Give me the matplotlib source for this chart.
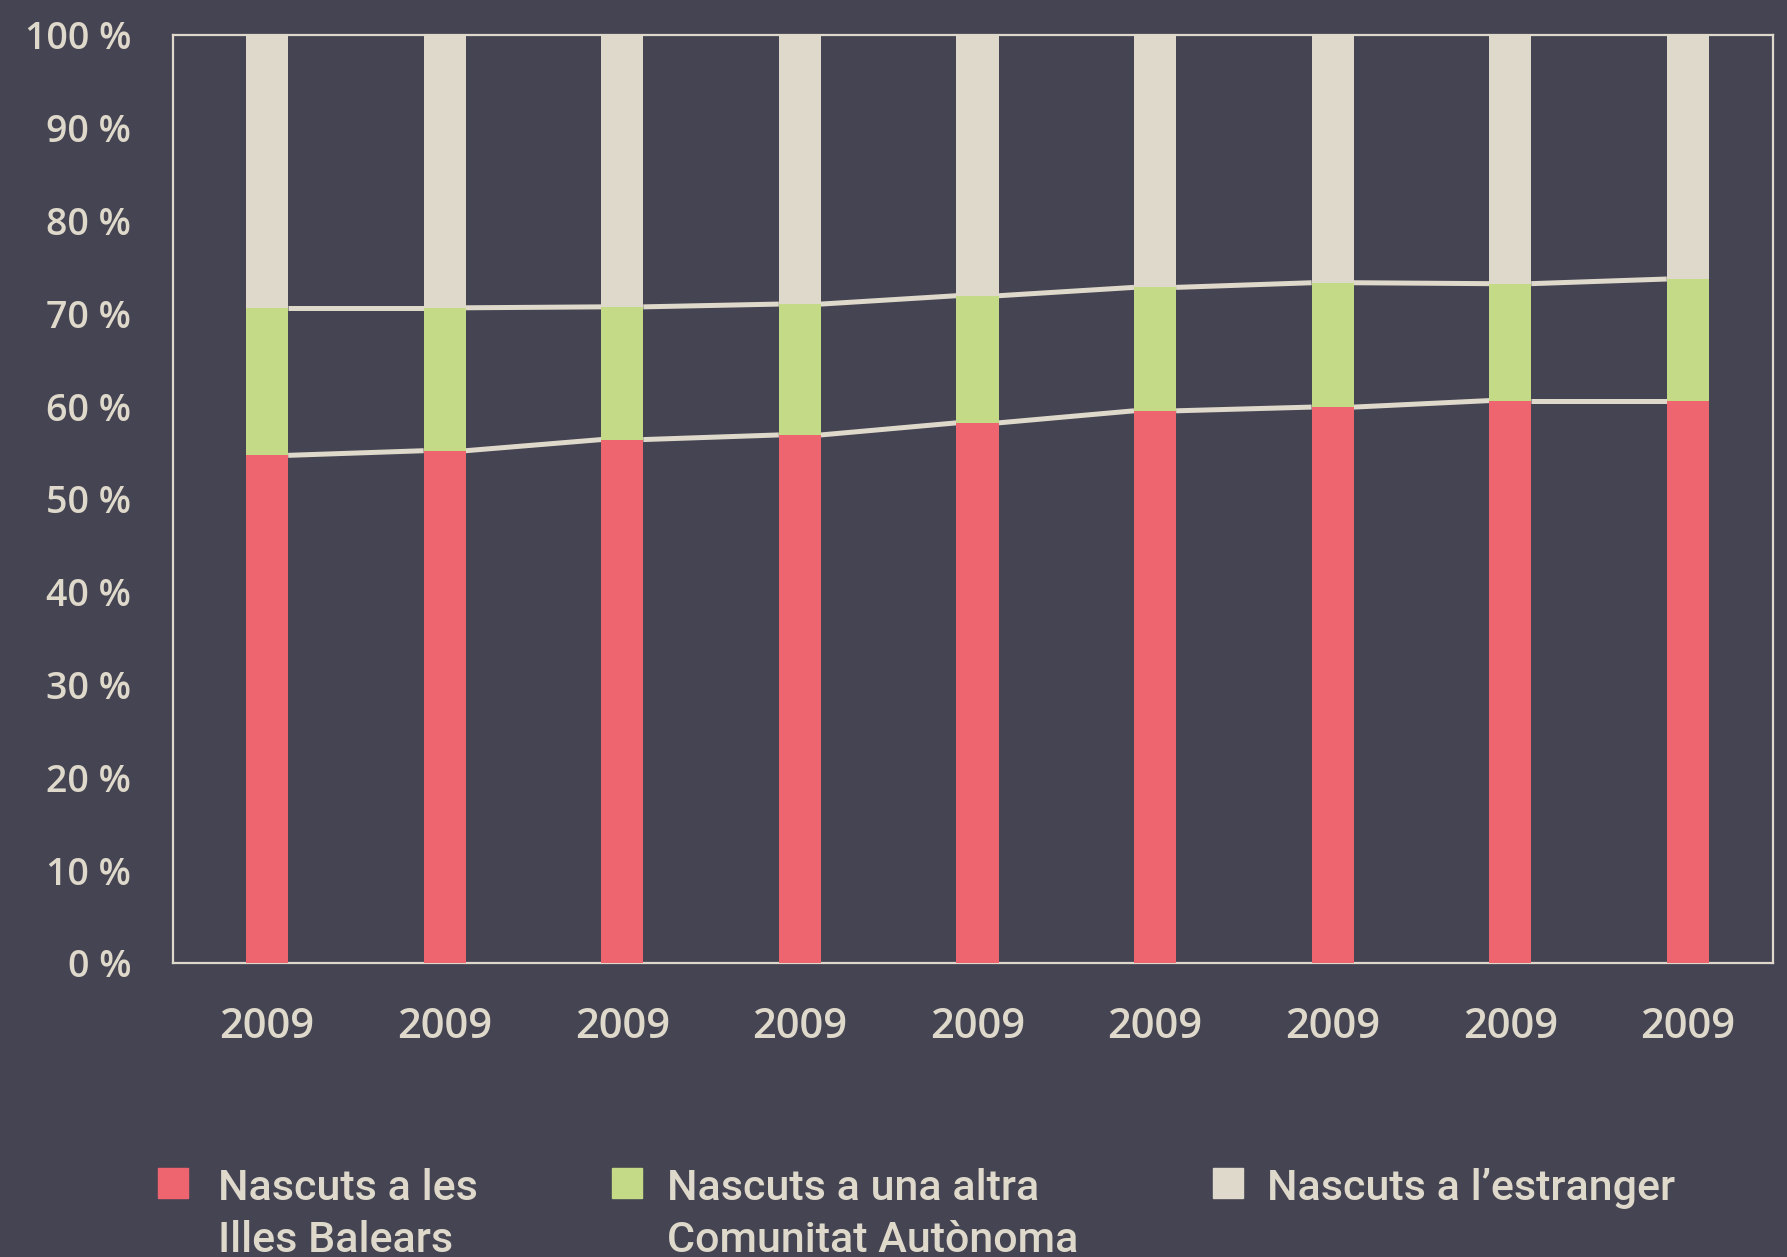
import matplotlib
matplotlib.use("Agg")
import matplotlib.pyplot as plt
from matplotlib import font_manager
from matplotlib.patches import Rectangle
import numpy as np

categories = ["2009"] * 9
illes_balears = [54.7, 55.2, 56.4, 56.9, 58.2, 59.5, 59.9, 60.6, 60.6]
altra_ca = [15.9, 15.4, 14.3, 14.1, 13.7, 13.3, 13.4, 12.6, 13.1]
estranger = [100 - a - b for a, b in zip(illes_balears, altra_ca)]
legend_labels = ["Nascuts a les\nIlles Balears", "Nascuts a una altra\nComunitat Autònoma", "Nascuts a l\u2019estranger"]
yticks = list(range(0, 101, 10))
ytick_labels = [f"{v} %" for v in yticks]

BG = "#454453"
RED = "#EE6570"
GREEN = "#C4DA86"
BEIGE = "#DFD9CB"

names = {f.name for f in font_manager.fontManager.ttflist}
tick_font = "Open Sans" if "Open Sans" in names else "DejaVu Sans"
leg_font = "Roboto" if "Roboto" in names else tick_font

fig = plt.figure(figsize=(17.87, 12.57), dpi=100, facecolor=BG)
ax = fig.add_axes([0.0968, 0.2339, 0.8954, 0.7383])
ax.set_facecolor(BG)

x = np.arange(len(categories))
w = 0.237
ax.bar(x, illes_balears, w, color=RED, zorder=3)
ax.bar(x, altra_ca, w, bottom=illes_balears, color=GREEN, zorder=3)
tops2 = [a + b for a, b in zip(illes_balears, altra_ca)]
ax.bar(x, estranger, w, bottom=tops2, color=BEIGE, zorder=3)

# series lines between bars
for series in (illes_balears, tops2):
    for i in range(len(x) - 1):
        ax.plot([x[i] + w / 2, x[i + 1] - w / 2], [series[i], series[i + 1]],
                color=BEIGE, lw=3.6, solid_capstyle="butt", zorder=2)

ax.set_xlim(-0.53, 8.48)
ax.set_ylim(0, 100)
ax.set_yticks(yticks)
ax.set_yticklabels(ytick_labels)
ax.set_xticks(x)
ax.set_xticklabels(categories)
ax.tick_params(axis="y", length=0, pad=30, labelsize=27, labelcolor=BEIGE)
ax.tick_params(axis="x", length=0, pad=31, labelsize=30, labelcolor=BEIGE)
for lab in ax.get_xticklabels() + ax.get_yticklabels():
    lab.set_fontfamily(tick_font)
    lab.set_fontweight(600)
for s in ax.spines.values():
    s.set_color(BEIGE)
    s.set_linewidth(1.6)

# legend
W, H = 1787, 1257
colors = [RED, GREEN, BEIGE]
sq_x = [158, 612, 1213]
txt_x = [218, 667, 1267]
sq_top = 1168
sq = 30
for c, sx, tx, lab in zip(colors, sq_x, txt_x, legend_labels):
    fig.patches.append(Rectangle((sx / W, 1 - (sq_top + sq) / H), sq / W, sq / H,
                                 transform=fig.transFigure, color=c))
    fig.text(tx / W, 1 - sq_top / H, lab, ha="left", va="top",
             fontsize=31, color=BEIGE, family=leg_font, fontweight="medium",
             linespacing=1.35)

fig.savefig("out.png", dpi=100, facecolor=BG)
